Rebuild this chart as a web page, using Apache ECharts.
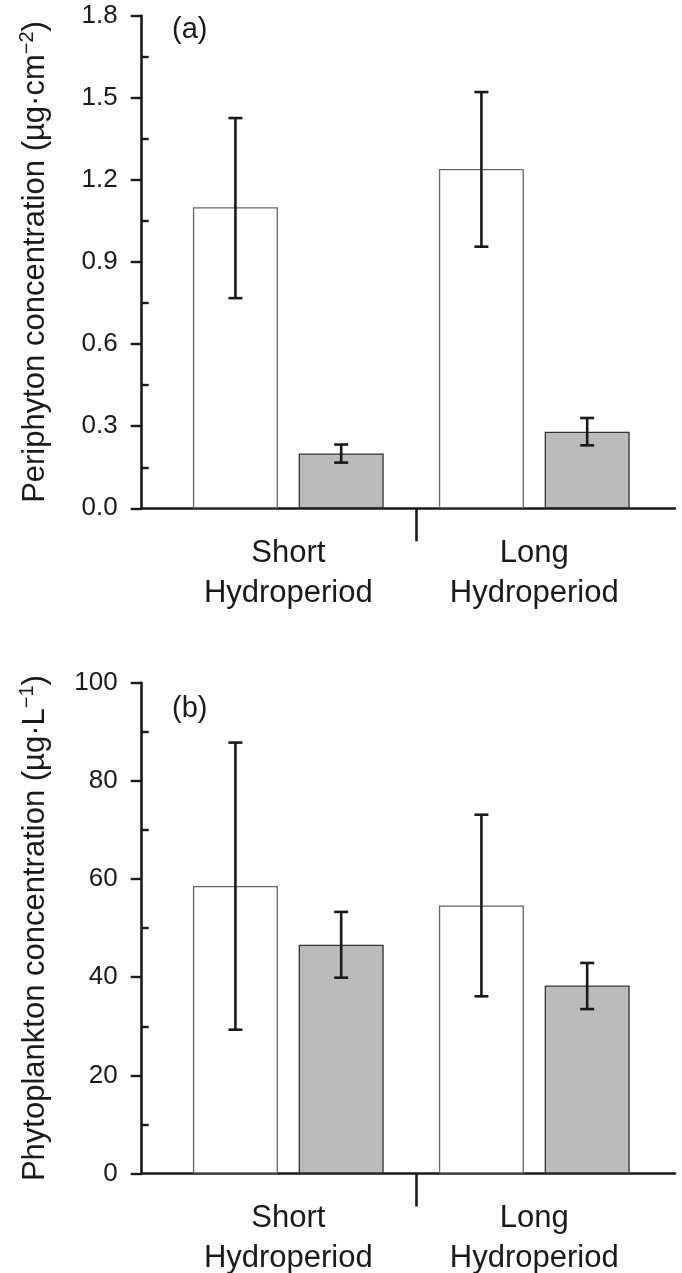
<!DOCTYPE html>
<html>
<head>
<meta charset="utf-8">
<script src="https://cdn.jsdelivr.net/npm/echarts@6/dist/echarts.min.js"></script>
<style>
html, body { margin: 0; background: #fff; }
#main { width: 682px; height: 1273px; }
</style>
</head>
<body>
<div id="main"></div>
<script>
var groups = ['Short\nHydroperiod', 'Long\nHydroperiod'];

// (a) periphyton, ug/cm2 : open and shaded bars, error bar ends
var periOpen = [1.10, 1.24];
var periOpenErr = [[0.768, 1.426], [0.956, 1.521]];
var periShade = [0.20, 0.28];
var periShadeErr = [[0.167, 0.233], [0.23, 0.33]];
var periTicks = [0, 0.3, 0.6, 0.9, 1.2, 1.5, 1.8];

// (b) phytoplankton, ug/L
var phytoOpen = [58.6, 54.6];
var phytoOpenErr = [[29.3, 87.8], [36.1, 73.1]];
var phytoShade = [46.6, 38.3];
var phytoShadeErr = [[39.9, 53.3], [33.5, 42.9]];
var phytoTicks = [0, 20, 40, 60, 80, 100];

var myChart = echarts.init(document.getElementById('main'));

var font = 'Liberation Sans, Arial, Helvetica, sans-serif';
var ink = '#1a1a1a';
var half = 0.215;           // offset of each bar from its group centre (x units)
var xMin = 0.404, xMax = 2.572, divider = 1.52;

function errRender(params, api) {
    var x = api.value(0);
    var top = api.coord([x, api.value(2)]);
    var bot = api.coord([x, api.value(1)]);
    var w = 7;
    var s = { stroke: ink, lineWidth: 2.6 };
    return {
        type: 'group',
        children: [
            { type: 'line', shape: { x1: top[0], y1: top[1], x2: bot[0], y2: bot[1] }, style: s },
            { type: 'line', shape: { x1: top[0] - w, y1: top[1], x2: top[0] + w, y2: top[1] }, style: s },
            { type: 'line', shape: { x1: bot[0] - w, y1: bot[1], x2: bot[0] + w, y2: bot[1] }, style: s }
        ]
    };
}

function panel(i, top, height, ticks, name, open, openErr, shade, shadeErr, digits) {
    var yMin = ticks[0], yMax = ticks[ticks.length - 1], step = ticks[1] - ticks[0];
    var grid = { left: 141.7, top: top, width: 533.3, height: height, containLabel: false, outerBoundsMode: 'none' };
    var xAxis = {
        gridIndex: i, type: 'value', min: xMin, max: xMax,
        axisLine: { show: true, onZero: false, lineStyle: { color: ink, width: 2.6 } },
        axisTick: { show: true, customValues: [divider], length: 33, lineStyle: { color: ink, width: 2.6 } },
        axisLabel: {
            customValues: [1, 2], margin: 25, fontSize: 31, lineHeight: 40,
            fontFamily: font, color: ink,
            formatter: function (v) { return groups[Math.round(v) - 1]; }
        },
        splitLine: { show: false }
    };
    var yMain = {
        gridIndex: i, type: 'value', position: 'left', min: yMin, max: yMax, interval: step,
        axisLine: { show: true, lineStyle: { color: ink, width: 2.6 } },
        axisTick: { show: true, length: 11, lineStyle: { color: ink, width: 2.4 } },
        axisLabel: {
            margin: 24, fontSize: 26, fontFamily: font, color: ink,
            formatter: function (v) { return v.toFixed(digits); }
        },
        splitLine: { show: false },
        name: name, nameLocation: 'middle', nameRotate: 90, nameGap: 88,
        nameTextStyle: {
            fontSize: 31, fontFamily: font, color: ink, lineHeight: 36,
            rich: { sup: { fontSize: 20, fontFamily: font, color: ink, verticalAlign: 'top', lineHeight: 20 } }
        }
    };
    var yMinor = {
        gridIndex: i, type: 'value', position: 'left', min: yMin, max: yMax, interval: step,
        axisLine: { show: false },
        axisTick: { show: false, inside: true },
        minorTick: { show: true, splitNumber: 2, length: 7, lineStyle: { color: ink, width: 2.4 } },
        axisLabel: { show: false },
        splitLine: { show: false }, minorSplitLine: { show: false }
    };
    var series = [
        {
            type: 'bar', xAxisIndex: i, yAxisIndex: 2 * i, barWidth: 85, barGap: '-100%',
            data: open.map(function (v, j) { return [j + 1 - half, v]; }),
            itemStyle: { color: '#ffffff', borderColor: '#666666', borderWidth: 1.3 }
        },
        {
            type: 'bar', xAxisIndex: i, yAxisIndex: 2 * i, barWidth: 85, barGap: '-100%',
            data: shade.map(function (v, j) { return [j + 1 + half, v]; }),
            itemStyle: { color: '#bbbbbb', borderColor: '#333333', borderWidth: 1.3 }
        },
        {
            type: 'custom', xAxisIndex: i, yAxisIndex: 2 * i, z: 5, renderItem: errRender,
            data: openErr.map(function (e, j) { return [j + 1 - half, e[0], e[1]]; })
                .concat(shadeErr.map(function (e, j) { return [j + 1 + half, e[0], e[1]]; }))
        }
    ];
    return { grid: grid, xAxis: xAxis, yAxis: [yMain, yMinor], series: series };
}

var pa = panel(0, 15.7, 492.6, periTicks, 'Periphyton concentration (\u00b5g\u00b7cm{sup|\u22122})',
    periOpen, periOpenErr, periShade, periShadeErr, 1);
var pb = panel(1, 682.7, 490.8, phytoTicks, 'Phytoplankton concentration (\u00b5g\u00b7L{sup|\u22121})',
    phytoOpen, phytoOpenErr, phytoShade, phytoShadeErr, 0);

option = {
    animation: false,
    backgroundColor: '#ffffff',
    title: [
        { text: '(a)', left: 172, top: 15, padding: 0, textStyle: { fontSize: 29, fontWeight: 'normal', fontFamily: font, color: ink } },
        { text: '(b)', left: 172, top: 694, padding: 0, textStyle: { fontSize: 29, fontWeight: 'normal', fontFamily: font, color: ink } }
    ],
    grid: [pa.grid, pb.grid],
    xAxis: [pa.xAxis, pb.xAxis],
    yAxis: pa.yAxis.concat(pb.yAxis),
    series: pa.series.concat(pb.series)
};

myChart.setOption(option);
</script>
</body>
</html>
